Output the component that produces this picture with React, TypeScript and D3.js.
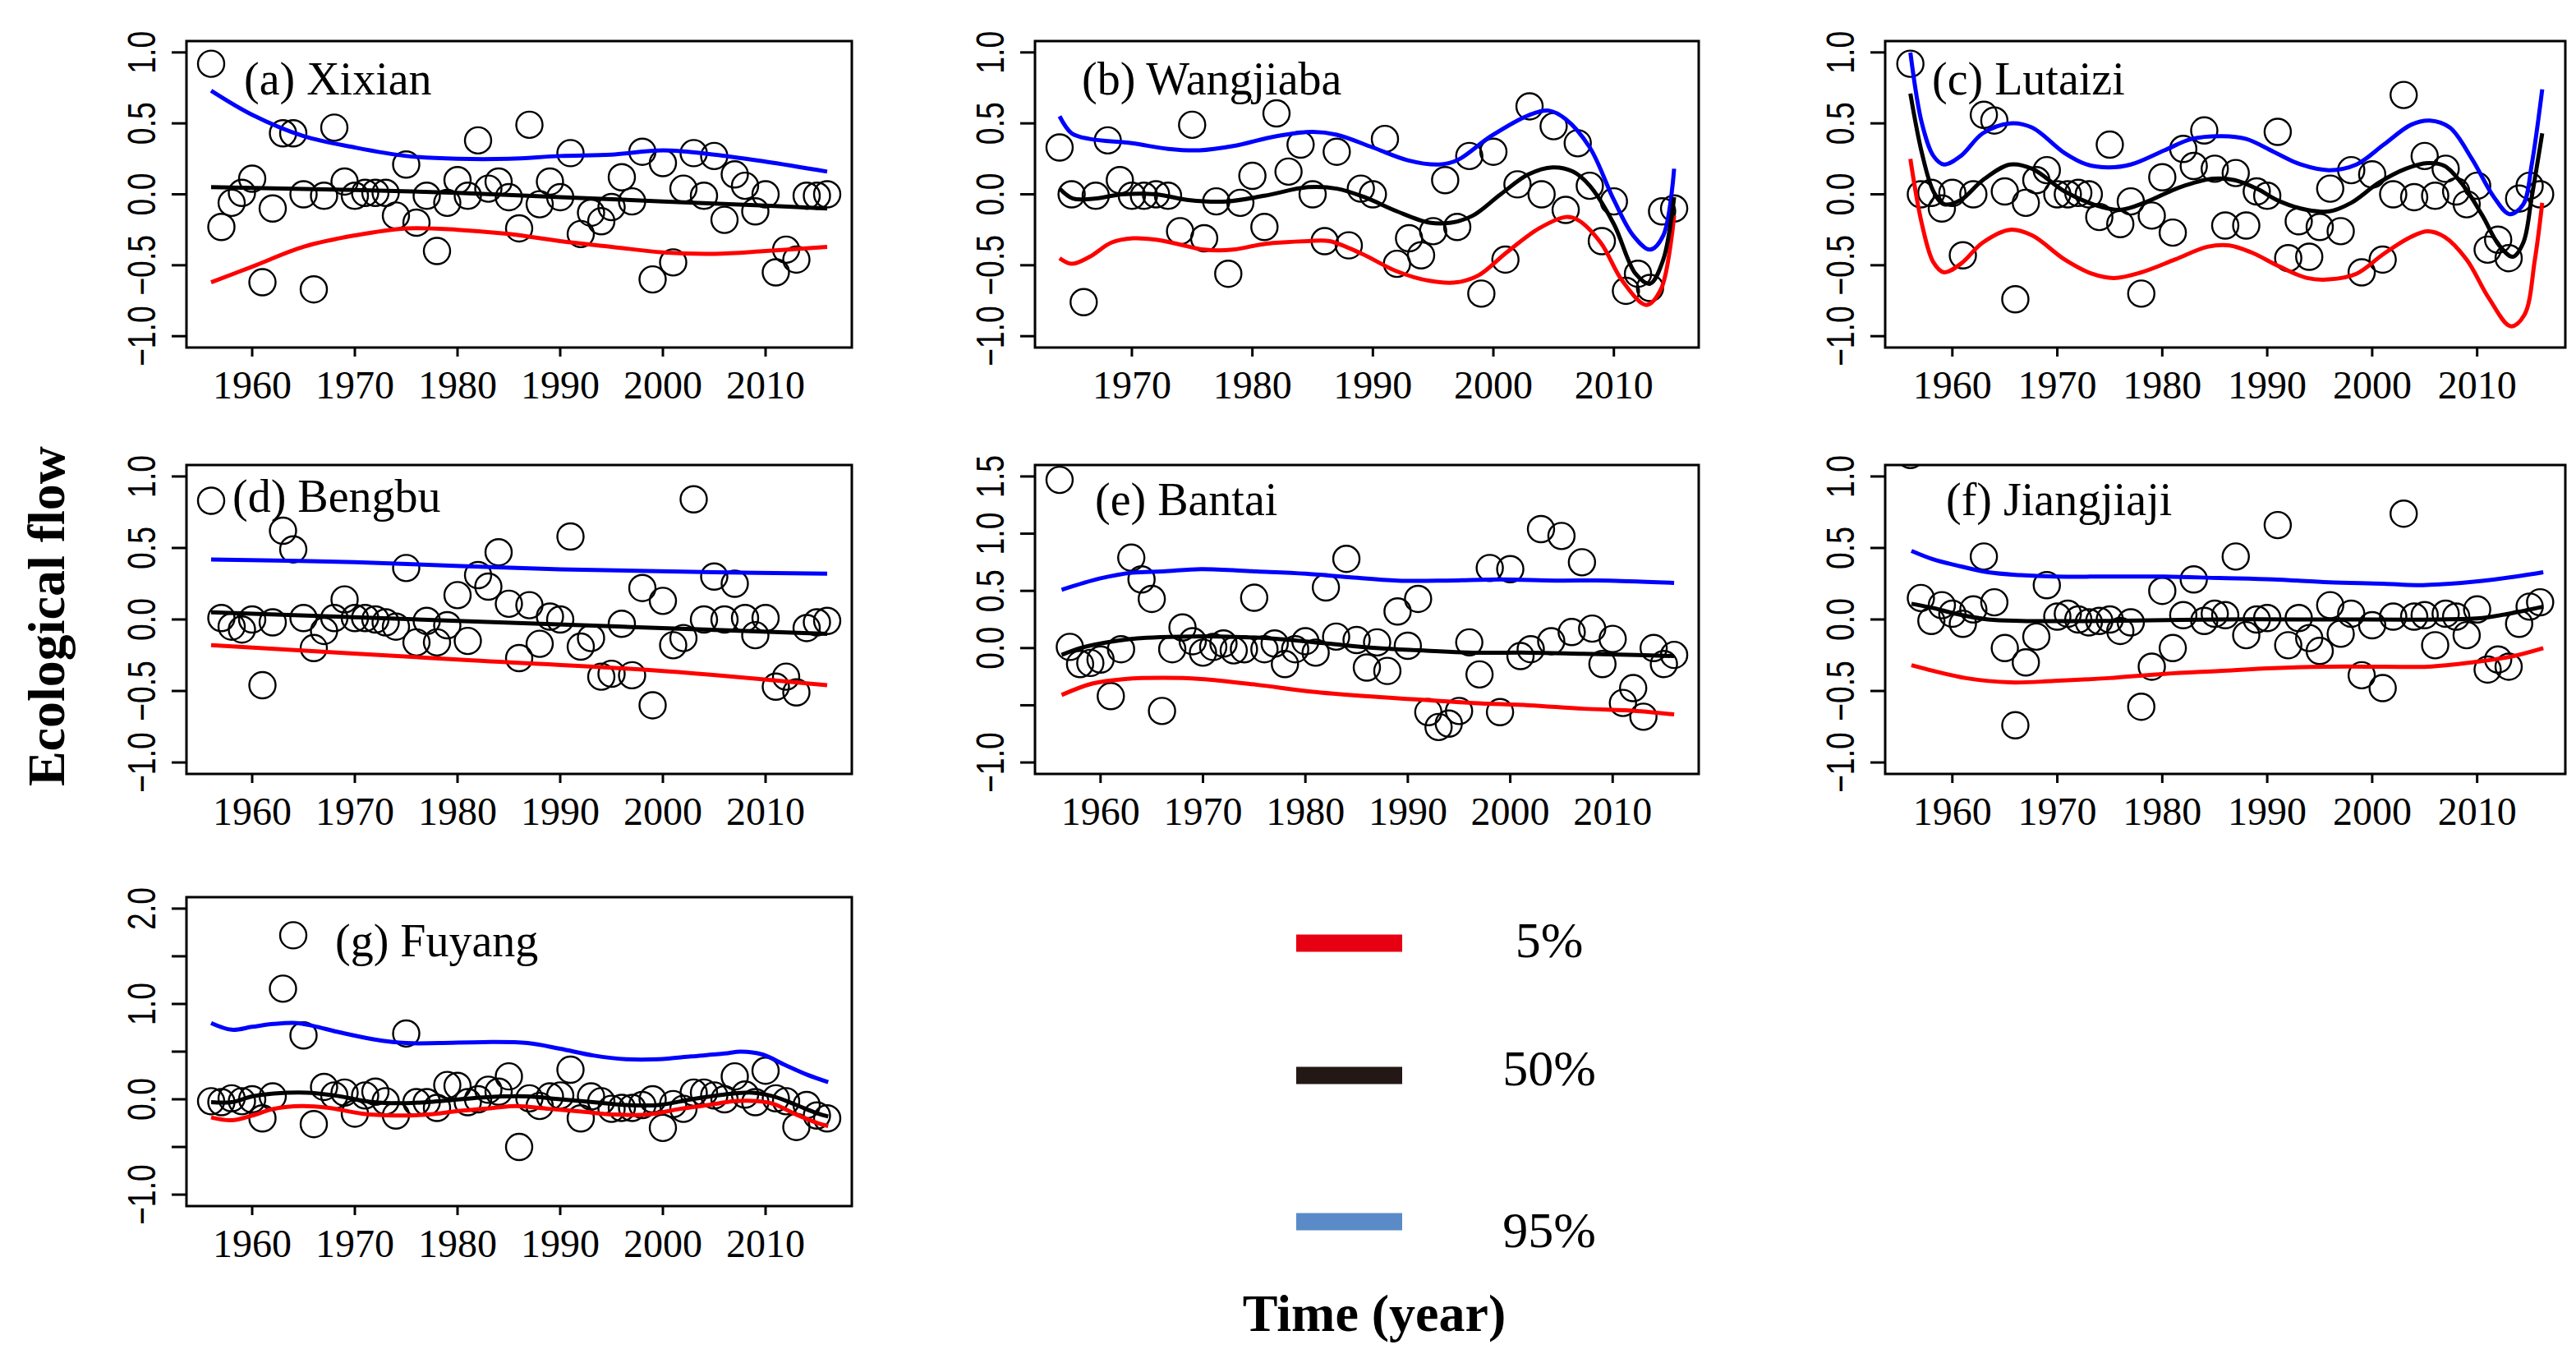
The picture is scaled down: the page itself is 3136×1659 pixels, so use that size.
import React from 'react';
import * as d3 from 'd3';

const W = 3136;
const H = 1659;

type Knot = [number, number];

// yearly ecological flow values (one per year from the start year)
const xixianObs = [
  0.92, -0.23, -0.06, 0.01, 0.11, -0.62, -0.1, 0.43, 0.43, 0.0,
  -0.67, -0.01, 0.47, 0.09, -0.01, 0.01, 0.01, 0.01, -0.15, 0.21,
  -0.2, -0.01, -0.4, -0.06, 0.1, -0.01, 0.38, 0.04, 0.09, -0.02,
  -0.24, 0.49, -0.07, 0.09, -0.02, 0.29, -0.28, -0.13, -0.19, -0.09,
  0.12, -0.05, 0.3, -0.6, 0.22, -0.48, 0.04, 0.29, -0.01, 0.27,
  -0.18, 0.14, 0.06, -0.12, 0.0, -0.55, -0.39, -0.46, -0.01, -0.01,
  0.0
];
const wangjiabaObs = [
  0.33, 0.0, -0.76, -0.01, 0.38, 0.1, -0.01, -0.01, 0.0, -0.01,
  -0.26, 0.49, -0.31, -0.05, -0.56, -0.06, 0.13, -0.23, 0.57, 0.16,
  0.35, 0.0, -0.33, 0.3, -0.36, 0.04, 0.0, 0.39, -0.49, -0.31,
  -0.43, -0.26, 0.1, -0.23, 0.27, -0.7, 0.3, -0.46, 0.07, 0.62,
  0.0, 0.48, -0.11, 0.36, 0.06, -0.33, -0.05, -0.68, -0.56, -0.66,
  -0.12, -0.1
];
const lutaiziObs = [
  0.92, 0.0, 0.01, -0.1, 0.01, -0.43, 0.0, 0.56, 0.52, 0.02,
  -0.74, -0.06, 0.1, 0.17, 0.0, 0.0, 0.01, 0.0, -0.16, 0.35,
  -0.21, -0.05, -0.7, -0.15, 0.12, -0.27, 0.32, 0.2, 0.45, 0.18,
  -0.22, 0.15, -0.22, 0.02, -0.01, 0.44, -0.45, -0.19, -0.44, -0.23,
  0.04, -0.26, 0.17, -0.55, 0.14, -0.46, 0.0, 0.7, -0.02, 0.27,
  -0.01, 0.18, 0.02, -0.07, 0.06, -0.39, -0.32, -0.45, -0.03, 0.06,
  0.0
];
const bengbuObs = [
  0.83, 0.01, -0.05, -0.07, 0.0, -0.46, -0.02, 0.62, 0.49, 0.01,
  -0.2, -0.08, 0.01, 0.14, 0.01, 0.01, 0.0, -0.02, -0.05, 0.36,
  -0.16, -0.01, -0.16, -0.04, 0.17, -0.15, 0.31, 0.23, 0.47, 0.11,
  -0.27, 0.1, -0.17, 0.02, 0.0, 0.58, -0.19, -0.13, -0.4, -0.38,
  -0.03, -0.39, 0.22, -0.6, 0.13, -0.18, -0.13, 0.84, 0.0, 0.3,
  0.0, 0.25, 0.01, -0.11, 0.01, -0.47, -0.4, -0.51, -0.06, -0.02,
  -0.01
];
const bantaiObs = [
  1.47, 0.01, -0.14, -0.13, -0.1, -0.42, -0.01, 0.79, 0.6, 0.43,
  -0.55, -0.01, 0.18, 0.06, -0.04, 0.01, 0.04, -0.02, -0.01, 0.44,
  -0.01, 0.04, -0.14, -0.01, 0.06, -0.04, 0.53, 0.1, 0.78, 0.07,
  -0.17, 0.05, -0.2, 0.32, 0.02, 0.43, -0.56, -0.69, -0.66, -0.55,
  0.05, -0.23, 0.7, -0.56, 0.69, -0.07, -0.01, 1.04, 0.06, 0.98,
  0.14, 0.75, 0.17, -0.14, 0.08, -0.48, -0.35, -0.6, 0.0, -0.14,
  -0.06
];
const jiangjiajiObs = [
  1.15, 0.15, -0.01, 0.1, 0.04, -0.03, 0.07, 0.44, 0.12, -0.2,
  -0.74, -0.3, -0.12, 0.24, 0.02, 0.04, 0.0, -0.02, -0.01, 0.0,
  -0.08, -0.02, -0.61, -0.33, 0.2, -0.2, 0.03, 0.28, -0.01, 0.04,
  0.03, 0.44, -0.11, 0.0, 0.01, 0.66, -0.18, 0.01, -0.13, -0.22,
  0.1, -0.1, 0.04, -0.39, -0.04, -0.48, 0.02, 0.74, 0.02, 0.03,
  -0.18, 0.04, 0.02, -0.11, 0.07, -0.35, -0.28, -0.33, -0.03, 0.09,
  0.12
];
const fuyangObs = [
  -0.02, -0.03, 0.01, -0.02, 0.0, -0.2, 0.03, 1.16, 1.72, 0.67,
  -0.26, 0.13, 0.04, 0.07, -0.15, 0.04, 0.08, -0.02, -0.17, 0.69,
  -0.03, -0.03, -0.09, 0.15, 0.14, -0.03, 0.0, 0.1, 0.08, 0.24,
  -0.5, 0.01, -0.07, 0.03, 0.04, 0.31, -0.2, 0.03, -0.02, -0.1,
  -0.09, -0.09, -0.06, 0.0, -0.3, -0.05, -0.1, 0.07, 0.07, 0.04,
  0.0, 0.24, 0.05, -0.03, 0.3, 0.01, -0.02, -0.29, -0.06, -0.17,
  -0.2
];

// quantile curves (year, value)
const xixianQ95: Knot[] = [[1956, 0.73], [1960, 0.56], [1965, 0.41], [1970, 0.33], [1975, 0.27], [1980, 0.25], [1985, 0.25], [1990, 0.27], [1995, 0.28], [2000, 0.31], [2005, 0.28], [2010, 0.23], [2016, 0.16]];
const xixianQ50: Knot[] = [[1956, 0.05], [1970, 0.03], [1980, 0.01], [1990, -0.02], [2000, -0.05], [2010, -0.08], [2016, -0.1]];
const xixianQ05: Knot[] = [[1956, -0.62], [1960, -0.51], [1965, -0.37], [1970, -0.29], [1975, -0.24], [1980, -0.25], [1985, -0.28], [1990, -0.33], [1995, -0.37], [2000, -0.41], [2005, -0.42], [2010, -0.4], [2016, -0.37]];

const wangjiabaQ95: Knot[] = [[1964, 0.55], [1965, 0.43], [1966.5, 0.39], [1970, 0.36], [1973, 0.32], [1975.6, 0.31], [1978.4, 0.34], [1982, 0.41], [1985, 0.44], [1987, 0.42], [1990, 0.33], [1992.9, 0.24], [1995.5, 0.21], [1997, 0.24], [1999.8, 0.41], [2003, 0.56], [2004.6, 0.59], [2006, 0.53], [2008, 0.33], [2010, -0.04], [2011.6, -0.29], [2013, -0.39], [2014.1, -0.29], [2015, 0.18]];
const wangjiabaQ50: Knot[] = [[1964, 0.04], [1965.1, -0.03], [1966.9, -0.03], [1969.2, 0.0], [1972, 0.0], [1974.7, -0.04], [1977.9, -0.05], [1981, -0.01], [1984.6, 0.05], [1987, 0.04], [1989.3, -0.02], [1992, -0.12], [1994.7, -0.2], [1996.5, -0.2], [1998.3, -0.15], [2000.6, 0.0], [2002.9, 0.14], [2004.9, 0.19], [2006.6, 0.16], [2008, 0.06], [2010, -0.21], [2011.8, -0.56], [2013, -0.63], [2014.1, -0.46], [2015, -0.02]];
const wangjiabaQ05: Knot[] = [[1964, -0.45], [1965, -0.49], [1966.5, -0.44], [1968.3, -0.34], [1970.1, -0.31], [1972, -0.32], [1973.8, -0.35], [1976, -0.39], [1978.4, -0.39], [1981, -0.35], [1984.6, -0.33], [1986.4, -0.33], [1989.1, -0.42], [1991.9, -0.54], [1994.7, -0.61], [1997, -0.62], [1998.8, -0.57], [2001.1, -0.41], [2003.8, -0.24], [2006, -0.16], [2007, -0.18], [2008.9, -0.34], [2010.7, -0.61], [2012.7, -0.78], [2013.9, -0.67], [2015, -0.15]];

const lutaiziQ95: Knot[] = [[1956, 1.0], [1957.1, 0.5], [1958.2, 0.27], [1959.2, 0.21], [1960.8, 0.27], [1962.9, 0.43], [1965.5, 0.5], [1967.6, 0.47], [1970.7, 0.29], [1972.8, 0.21], [1974.9, 0.19], [1977, 0.21], [1980.2, 0.31], [1982.8, 0.39], [1985.7, 0.41], [1988, 0.39], [1990.6, 0.3], [1993.2, 0.21], [1995.9, 0.17], [1998.5, 0.21], [2001.1, 0.35], [2003.7, 0.49], [2005.5, 0.52], [2007.4, 0.47], [2009.5, 0.25], [2011.6, -0.02], [2013.1, -0.14], [2014.4, -0.07], [2015.2, 0.21], [2016.2, 0.74]];
const lutaiziQ50: Knot[] = [[1956, 0.71], [1957.1, 0.29], [1958.2, 0.02], [1959.2, -0.07], [1960.8, -0.04], [1962.9, 0.1], [1965.5, 0.21], [1967.6, 0.18], [1970.7, 0.02], [1973.8, -0.08], [1976, -0.11], [1978.6, -0.05], [1981.7, 0.05], [1984.8, 0.11], [1986.9, 0.1], [1989, 0.04], [1991.2, -0.05], [1993.8, -0.11], [1995.9, -0.12], [1998, -0.06], [2000.6, 0.08], [2003.2, 0.18], [2005.3, 0.22], [2006.9, 0.2], [2008.7, 0.06], [2010.5, -0.15], [2012.1, -0.36], [2013.4, -0.44], [2014.4, -0.34], [2015.2, -0.02], [2016.2, 0.43]];
const lutaiziQ05: Knot[] = [[1956, 0.25], [1957.1, -0.21], [1958.2, -0.48], [1959.2, -0.55], [1960.8, -0.49], [1962.9, -0.34], [1965.5, -0.25], [1967.6, -0.29], [1970.7, -0.46], [1973.3, -0.56], [1975.4, -0.59], [1978, -0.55], [1981.2, -0.46], [1984.3, -0.37], [1986.4, -0.36], [1988.5, -0.41], [1991.2, -0.51], [1993.8, -0.59], [1995.9, -0.6], [1998.5, -0.56], [2001.1, -0.42], [2003.7, -0.3], [2005.3, -0.26], [2006.9, -0.3], [2009, -0.46], [2011.1, -0.73], [2013.2, -0.93], [2014.5, -0.85], [2015.5, -0.46], [2016.2, -0.06]];

const bengbuQ95: Knot[] = [[1956, 0.42], [1970, 0.4], [1990, 0.35], [2005, 0.33], [2016, 0.32]];
const bengbuQ50: Knot[] = [[1956, 0.05], [1980, -0.01], [2016, -0.1]];
const bengbuQ05: Knot[] = [[1956, -0.18], [1980, -0.28], [2000, -0.36], [2016, -0.46]];

const bantaiQ95: Knot[] = [[1956.2, 0.51], [1960, 0.61], [1963.1, 0.66], [1966.1, 0.67], [1969.8, 0.69], [1975.2, 0.67], [1980, 0.65], [1984.2, 0.62], [1989, 0.59], [1993.8, 0.59], [1999.1, 0.6], [2004.4, 0.59], [2009.7, 0.59], [2016, 0.57]];
const bantaiQ50: Knot[] = [[1956.2, -0.06], [1958, 0.0], [1961.3, 0.06], [1964.5, 0.09], [1967.7, 0.1], [1972.5, 0.1], [1977.3, 0.08], [1982.1, 0.04], [1986.9, 0.0], [1991.1, -0.02], [1996.4, -0.04], [2001.8, -0.04], [2007.1, -0.05], [2012.4, -0.06], [2016, -0.07]];
const bantaiQ05: Knot[] = [[1956.2, -0.41], [1959.2, -0.31], [1962.4, -0.27], [1966.1, -0.26], [1969.8, -0.27], [1975.2, -0.32], [1980.5, -0.38], [1985.8, -0.42], [1991.1, -0.45], [1996.4, -0.48], [2001.8, -0.5], [2007.1, -0.53], [2012.4, -0.55], [2016, -0.58]];

const jiangjiajiQ95: Knot[] = [[1956.1, 0.48], [1958.2, 0.42], [1960.3, 0.38], [1963.4, 0.33], [1966.5, 0.31], [1969.7, 0.3], [1974.9, 0.3], [1980.2, 0.3], [1985.4, 0.29], [1990.6, 0.28], [1995.9, 0.26], [2001.1, 0.25], [2004.2, 0.24], [2007.4, 0.25], [2010.5, 0.27], [2013.7, 0.3], [2016.3, 0.33]];
const jiangjiajiQ50: Knot[] = [[1956.1, 0.11], [1958.2, 0.08], [1960.3, 0.04], [1963.4, 0.0], [1966.5, -0.01], [1974.9, -0.01], [1985.4, 0.0], [1995.9, 0.0], [2006.3, 0.0], [2010.5, 0.01], [2013.7, 0.05], [2016.3, 0.09]];
const jiangjiajiQ05: Knot[] = [[1956.1, -0.32], [1958.2, -0.36], [1961.3, -0.41], [1965.5, -0.44], [1969.7, -0.43], [1974.9, -0.41], [1980.2, -0.38], [1985.4, -0.36], [1990.6, -0.34], [1995.9, -0.33], [2001.1, -0.33], [2005.3, -0.33], [2009.5, -0.3], [2013.2, -0.26], [2016.3, -0.2]];

const fuyangQ95: Knot[] = [[1956, 0.8], [1958, 0.73], [1960, 0.76], [1962.1, 0.79], [1964.3, 0.8], [1965.9, 0.77], [1968.6, 0.7], [1971.8, 0.63], [1975, 0.59], [1978.2, 0.59], [1982.5, 0.6], [1986.8, 0.59], [1990, 0.53], [1993.2, 0.46], [1996.4, 0.42], [1999.6, 0.42], [2002.8, 0.45], [2006, 0.48], [2007.6, 0.5], [2009.7, 0.47], [2011.9, 0.36], [2014, 0.26], [2016.1, 0.18]];
const fuyangQ50: Knot[] = [[1956, -0.03], [1958, -0.03], [1960, 0.03], [1962.1, 0.06], [1965.3, 0.07], [1968, 0.04], [1971.8, -0.03], [1975, -0.04], [1978.2, -0.02], [1982.5, 0.02], [1986.8, 0.03], [1990, 0.0], [1993.2, -0.03], [1996.4, -0.06], [1999.6, -0.06], [2002.8, 0.0], [2006, 0.05], [2008.7, 0.07], [2010.8, 0.03], [2013, -0.06], [2015.1, -0.15], [2016.1, -0.18]];
const fuyangQ05: Knot[] = [[1956, -0.19], [1958, -0.22], [1960, -0.17], [1962.1, -0.1], [1964.8, -0.07], [1967.5, -0.09], [1970.7, -0.15], [1973.9, -0.17], [1977.1, -0.16], [1980.3, -0.12], [1983.5, -0.09], [1985.7, -0.07], [1988.9, -0.1], [1992.1, -0.13], [1995.3, -0.16], [1998.5, -0.16], [2001.7, -0.1], [2004.4, -0.06], [2007, -0.02], [2009.2, -0.02], [2010.8, -0.05], [2013, -0.16], [2015.1, -0.25], [2016.1, -0.28]];

// axis ticks and labels
const yearTicks = [1960, 1970, 1980, 1990, 2000, 2010];
const unitTicks = [-1, -0.5, 0, 0.5, 1];
const bantaiTicks = [-1, -0.5, 0, 0.5, 1, 1.5];
const bantaiTickLabels = ['−1.0', '', '0.0', '0.5', '1.0', '1.5'];
const fuyangTicks = [-1, -0.5, 0, 0.5, 1, 1.5, 2];
const fuyangTickLabels = ['−1.0', '', '0.0', '', '1.0', '', '2.0'];

const legendLabels = ['5%', '50%', '95%'];
const legendColors = ['#e60012', '#231815', '#5a8bc8'];

const fmt = (v: number) => d3.format('.1f')(v).replace('-', '−');

interface PanelSpec {
  title: string;
  obs: number[];
  start: number;
  q05: Knot[];
  q50: Knot[];
  q95: Knot[];
  ticks: number[];
  tickLabels?: string[];
  box: { left: number; right: number; top: number; bottom: number };
  titlePos: [number, number];
}

const panels: PanelSpec[] = [
  { title: '(a) Xixian', obs: xixianObs, start: 1956, q05: xixianQ05, q50: xixianQ50, q95: xixianQ95, ticks: unitTicks,
    box: { left: 227, right: 1037, top: 50, bottom: 423 }, titlePos: [297, 115] },
  { title: '(b) Wangjiaba', obs: wangjiabaObs, start: 1964, q05: wangjiabaQ05, q50: wangjiabaQ50, q95: wangjiabaQ95, ticks: unitTicks,
    box: { left: 1260, right: 2068, top: 50, bottom: 423 }, titlePos: [1317, 115] },
  { title: '(c) Lutaizi', obs: lutaiziObs, start: 1956, q05: lutaiziQ05, q50: lutaiziQ50, q95: lutaiziQ95, ticks: unitTicks,
    box: { left: 2295, right: 3123, top: 50, bottom: 423 }, titlePos: [2352, 115] },
  { title: '(d) Bengbu', obs: bengbuObs, start: 1956, q05: bengbuQ05, q50: bengbuQ50, q95: bengbuQ95, ticks: unitTicks,
    box: { left: 227, right: 1037, top: 566, bottom: 942 }, titlePos: [283, 623] },
  { title: '(e) Bantai', obs: bantaiObs, start: 1956, q05: bantaiQ05, q50: bantaiQ50, q95: bantaiQ95, ticks: bantaiTicks, tickLabels: bantaiTickLabels,
    box: { left: 1260, right: 2068, top: 566, bottom: 942 }, titlePos: [1333, 627] },
  { title: '(f) Jiangjiaji', obs: jiangjiajiObs, start: 1956, q05: jiangjiajiQ05, q50: jiangjiajiQ50, q95: jiangjiajiQ95, ticks: unitTicks,
    box: { left: 2295, right: 3123, top: 566, bottom: 942 }, titlePos: [2369, 627] },
  { title: '(g) Fuyang', obs: fuyangObs, start: 1956, q05: fuyangQ05, q50: fuyangQ50, q95: fuyangQ95, ticks: fuyangTicks, tickLabels: fuyangTickLabels,
    box: { left: 227, right: 1037, top: 1092, bottom: 1468 }, titlePos: [408, 1164] }
];

const serif = '"Liberation Serif", "Times New Roman", serif';
const sans = '"Liberation Sans", Arial, sans-serif';

function Panel({ p, idx }: { p: PanelSpec; idx: number }) {
  const { box } = p;
  const first = p.start;
  const last = p.start + p.obs.length - 1;
  const xPad = (last - first) * 0.04;
  const yMin = d3.min(p.ticks)!;
  const yMax = d3.max(p.ticks)!;
  const yPad = (yMax - yMin) * 0.04;

  const x = d3.scaleLinear().domain([first - xPad, last + xPad]).range([box.left, box.right]);
  const y = d3.scaleLinear().domain([yMin - yPad, yMax + yPad]).range([box.bottom, box.top]);

  const line = d3
    .line<Knot>()
    .x(d => x(d[0]))
    .y(d => y(d[1]))
    .curve(d3.curveCatmullRom.alpha(0.5));

  const xt = yearTicks.filter(t => t >= x.domain()[0] && t <= x.domain()[1]);
  const clipId = `clip-${idx}`;

  return (
    <g>
      <defs>
        <clipPath id={clipId}>
          <rect x={box.left} y={box.top} width={box.right - box.left} height={box.bottom - box.top} />
        </clipPath>
      </defs>

      <g clipPath={`url(#${clipId})`}>
        {p.obs.map((v, i) => (
          <circle key={i} cx={x(first + i)} cy={y(v)} r={16} fill="none" stroke="#000" strokeWidth={2.4} />
        ))}
        <path d={line(p.q95)!} fill="none" stroke="#0000ff" strokeWidth={5} />
        <path d={line(p.q05)!} fill="none" stroke="#ff0000" strokeWidth={5} />
        <path d={line(p.q50)!} fill="none" stroke="#000" strokeWidth={5} />
      </g>

      <rect x={box.left} y={box.top} width={box.right - box.left} height={box.bottom - box.top}
        fill="none" stroke="#000" strokeWidth={3} />

      {p.ticks.map((t, i) => (
        <g key={`y${t}`}>
          <line x1={box.left - 18} x2={box.left} y1={y(t)} y2={y(t)} stroke="#000" strokeWidth={3} />
          <text transform={`translate(${box.left - 38},${y(t)}) rotate(-90) scale(0.78,1)`} textAnchor="middle"
            fontFamily={sans} fontSize={48} fill="#000">
            {p.tickLabels ? p.tickLabels[i] : fmt(t)}
          </text>
        </g>
      ))}

      {xt.map(t => (
        <g key={`x${t}`}>
          <line x1={x(t)} x2={x(t)} y1={box.bottom} y2={box.bottom + 11} stroke="#000" strokeWidth={3} />
          <text x={x(t)} y={box.bottom + 62} textAnchor="middle" fontFamily={serif} fontSize={48} fill="#000">
            {t}
          </text>
        </g>
      ))}

      <text x={p.titlePos[0]} y={p.titlePos[1]} fontFamily={serif} fontSize={56} fill="#000">
        {p.title}
      </text>
    </g>
  );
}

export default function App() {
  const legendY = [1148, 1309, 1487];
  const legendTextY = [1165, 1321, 1518];
  return (
    <svg width={W} height={H} viewBox={`0 0 ${W} ${H}`}
      style={{ position: 'absolute', left: 0, top: 0, background: '#fff' }}>
      <rect x={0} y={0} width={W} height={H} fill="#fff" />
      {panels.map((p, i) => (
        <Panel key={p.title} p={p} idx={i} />
      ))}

      <text transform="translate(78,750) rotate(-90)" textAnchor="middle" fontFamily={serif}
        fontWeight="bold" fontSize={64} fill="#000">
        Ecological flow
      </text>
      <text x={1673} y={1620} textAnchor="middle" fontFamily={serif} fontWeight="bold" fontSize={64} fill="#000">
        Time (year)
      </text>

      {legendLabels.map((lab, i) => (
        <g key={lab}>
          <rect x={1578} y={legendY[i] - 10.5} width={129} height={21} fill={legendColors[i]} />
          <text x={1886} y={legendTextY[i]} textAnchor="middle" fontFamily={serif} fontSize={62} fill="#000">
            {lab}
          </text>
        </g>
      ))}
    </svg>
  );
}
